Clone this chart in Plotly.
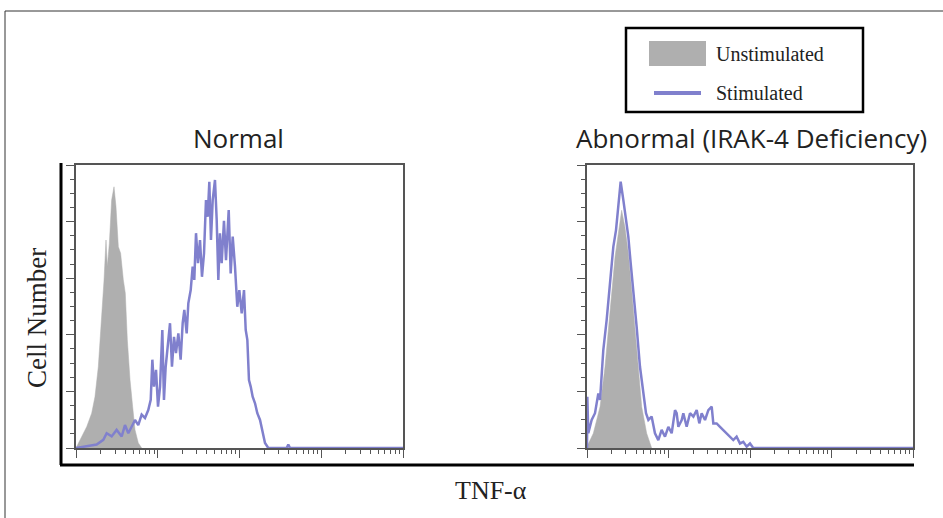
import plotly.graph_objects as go

# ---------------- data (x = log10 TNF-alpha fluorescence, y = % of max cell count) ----------------
normal_unstim_x = [0.0, 0.07, 0.131, 0.192, 0.232, 0.273, 0.314, 0.343, 0.367, 0.383, 0.408, 0.436,
                   0.465, 0.489, 0.518, 0.546, 0.579, 0.603, 0.628, 0.661, 0.693, 0.722, 0.762, 0.803]
normal_unstim_y = [0.0, 4.1, 7.5, 12.3, 18.1, 28.7, 45.2, 59.4, 73.5, 64.1, 72.3, 87.6,
                   92.3, 85.3, 71.1, 68.8, 59.4, 54.7, 38.2, 24.0, 14.6, 6.4, 1.8, 0.0]

normal_stim_x = [0.0, 0.131, 0.253, 0.334, 0.375, 0.436, 0.497, 0.559, 0.599, 0.64, 0.681, 0.722,
                 0.762, 0.803, 0.844, 0.884, 0.914, 0.934, 0.954, 0.979, 1.003, 1.028, 1.056, 1.076,
                 1.097, 1.121, 1.15, 1.174, 1.199, 1.223, 1.252, 1.28, 1.305, 1.325, 1.354, 1.374,
                 1.403, 1.427, 1.447, 1.468, 1.492, 1.517, 1.541, 1.566, 1.59, 1.611, 1.631, 1.651,
                 1.672, 1.7, 1.721, 1.741, 1.761, 1.782, 1.81, 1.835, 1.868, 1.892, 1.917, 1.945,
                 1.973, 1.998, 2.027, 2.055, 2.076, 2.096, 2.116, 2.137, 2.161, 2.19, 2.218, 2.251,
                 2.283, 2.312, 2.352, 2.577, 2.597, 2.618, 4.0]
normal_stim_y = [0.0, 0.6, 1.2, 2.9, 5.2, 4.1, 6.4, 4.1, 8.1, 5.2, 7.5, 9.9,
                 8.1, 11.8, 10.6, 13.4, 17.0, 31.2, 21.7, 27.6, 14.6, 21.7, 41.7, 17.0,
                 28.7, 35.8, 44.1, 28.7, 39.3, 33.5, 40.5, 31.2, 44.1, 48.8, 40.5, 51.1,
                 55.8, 64.1, 59.4, 75.9, 65.3, 73.5, 60.5, 68.8, 87.6, 81.7, 94.1, 73.5,
                 87.6, 94.7, 80.6, 59.4, 75.9, 65.3, 80.3, 66.4, 84.1, 61.7, 74.7, 64.1,
                 49.9, 55.8, 47.6, 55.8, 41.7, 38.2, 24.0, 21.7, 18.1, 15.8, 12.3, 9.9,
                 5.2, 1.8, 0.0, 0.0, 1.2, 0.0, 0.0]

irak4_unstim_x = [0.0, 0.078, 0.16, 0.221, 0.262, 0.303, 0.344, 0.385, 0.425, 0.466, 0.507,
                  0.548, 0.589, 0.63, 0.671, 0.732, 0.793]
irak4_unstim_y = [0.5, 5.2, 14.6, 28.7, 41.7, 55.8, 67.6, 75.9, 84.0, 78.0, 68.8,
                  55.8, 41.7, 26.4, 14.6, 5.2, 0.0]

irak4_stim_x = [0.0, 0.004, 0.016, 0.057, 0.098, 0.139, 0.16, 0.2, 0.241, 0.282, 0.323, 0.356,
                0.385, 0.413, 0.446, 0.479, 0.507, 0.536, 0.569, 0.609, 0.65, 0.691, 0.724, 0.753,
                0.793, 0.834, 0.875, 0.916, 0.957, 0.998, 1.039, 1.08, 1.1, 1.121, 1.162, 1.182,
                1.223, 1.264, 1.305, 1.346, 1.378, 1.407, 1.448, 1.489, 1.53, 1.55, 1.591, 1.632,
                1.673, 1.714, 1.755, 1.795, 1.836, 1.877, 1.918, 1.959, 2.0, 2.04, 2.082, 4.0]
irak4_stim_y = [0.0, 18.1, 5.2, 9.9, 12.3, 19.3, 17.0, 34.6, 45.2, 59.4, 71.1, 77.0,
                85.3, 94.1, 87.6, 80.6, 74.7, 65.3, 55.8, 42.9, 28.7, 19.3, 12.3, 9.9,
                11.1, 5.2, 2.8, 6.4, 4.0, 7.5, 5.2, 13.4, 12.3, 7.5, 9.9, 12.3,
                7.5, 12.3, 11.1, 13.4, 8.7, 12.3, 9.9, 13.4, 14.6, 8.7, 8.7, 7.5,
                6.4, 5.2, 4.0, 2.8, 4.0, 1.6, 2.2, 0.5, 1.6, 0.0, 0.0, 0.0]

panel_titles = ["Normal", "Abnormal (IRAK-4 Deficiency)"]
legend_labels = ["Unstimulated", "Stimulated"]
y_title = "Cell Number"
x_title = "TNF-α"

# ---------------- style ----------------
W, H = 943, 518
GRAY = "#afafaf"
BLUE = "rgb(128,128,205)"
AXC = "#555555"


def px(x):
    return x / W


def py(y):
    return 1 - y / H


def lin(v):
    return [10 ** t for t in v]


fig = go.Figure()

for xs, ys, xa, ya in [(normal_unstim_x, normal_unstim_y, "x", "y"),
                       (irak4_unstim_x, irak4_unstim_y, "x2", "y2")]:
    fig.add_trace(go.Scatter(x=lin(xs), y=ys, xaxis=xa, yaxis=ya, mode="lines",
                             fill="tozeroy", fillcolor=GRAY, line=dict(color=GRAY, width=0.5),
                             name=legend_labels[0], showlegend=False, hoverinfo="skip"))
for xs, ys, xa, ya in [(normal_stim_x, normal_stim_y, "x", "y"),
                       (irak4_stim_x, irak4_stim_y, "x2", "y2")]:
    fig.add_trace(go.Scatter(x=lin(xs), y=ys, xaxis=xa, yaxis=ya, mode="lines",
                             line=dict(color=BLUE, width=2.5), name=legend_labels[1],
                             showlegend=False, hoverinfo="skip"))

xcommon = dict(type="log", range=[0, 4], dtick=1, showline=True, linecolor=AXC, linewidth=1.5,
               mirror=True, ticks="outside", ticklen=8, tickwidth=1.3, tickcolor=AXC,
               showticklabels=False, showgrid=False, zeroline=False,
               minor=dict(ticks="outside", ticklen=4, tickwidth=1, tickcolor=AXC,
                          dtick="D1", showgrid=False))
ycommon = dict(range=[0, 100], dtick=20, showline=True, linecolor=AXC, linewidth=1.5,
               mirror=True, ticks="outside", ticklen=8, tickwidth=1.3, tickcolor=AXC,
               showticklabels=False, showgrid=False, zeroline=False,
               minor=dict(ticks="outside", ticklen=4, tickwidth=1, tickcolor=AXC,
                          dtick=5, showgrid=False))

ydom = [py(448), py(165)]
fig.update_layout(
    width=W, height=H, margin=dict(l=0, r=0, t=0, b=0),
    paper_bgcolor="white", plot_bgcolor="white", showlegend=False,
    xaxis=dict(domain=[px(76), px(403)], anchor="y", **xcommon),
    yaxis=dict(domain=ydom, anchor="x", **ycommon),
    xaxis2=dict(domain=[px(587), px(913)], anchor="y2", **xcommon),
    yaxis2=dict(domain=ydom, anchor="x2", **ycommon),
)

shapes = [
    # outer frame
    dict(type="rect", xref="paper", yref="paper", x0=px(5), y0=py(11), x1=1.02, y1=-0.02,
         line=dict(color="#333333", width=1)),
    # thick L axis lines
    dict(type="line", xref="paper", yref="paper", x0=px(61), x1=px(61), y0=py(163), y1=py(465),
         line=dict(color="black", width=3)),
    dict(type="line", xref="paper", yref="paper", x0=px(60), x1=px(914), y0=py(465), y1=py(465),
         line=dict(color="black", width=3)),
    # legend box
    dict(type="rect", xref="paper", yref="paper", x0=px(626), x1=px(863), y0=py(28), y1=py(112),
         line=dict(color="black", width=2.5), fillcolor="white"),
    dict(type="rect", xref="paper", yref="paper", x0=px(649), x1=px(706), y0=py(41), y1=py(66),
         line=dict(width=0), fillcolor=GRAY),
    dict(type="line", xref="paper", yref="paper", x0=px(654), x1=px(701), y0=py(93), y1=py(93),
         line=dict(color=BLUE, width=4)),
]
fig.update_layout(shapes=shapes)

SANS = "Open Sans, Noto Sans, sans-serif"
SERIF = "Liberation Serif, Times New Roman, serif"
ann = [
    dict(text=panel_titles[0], x=px(238), y=py(138), font=dict(family=SANS, size=26, color="#222")),
    dict(text=panel_titles[1], x=px(751), y=py(138), font=dict(family=SANS, size=26, color="#222")),
    dict(text=y_title, x=px(37), y=py(318), textangle=-90,
         font=dict(family=SERIF, size=27, color="#222")),
    dict(text=x_title, x=px(491), y=py(490), font=dict(family=SERIF, size=26, color="#222")),
    dict(text=legend_labels[0], x=px(714), y=py(54), xanchor="left",
         font=dict(family=SERIF, size=20, color="#222")),
    dict(text=legend_labels[1], x=px(714), y=py(93), xanchor="left",
         font=dict(family=SERIF, size=20, color="#222")),
]
for a in ann:
    a.setdefault("xanchor", "center")
    fig.add_annotation(xref="paper", yref="paper", yanchor="middle", showarrow=False, **a)

fig.write_html("out.html", config={"displayModeBar": False},
               post_script="document.body.style.margin='0';document.body.style.overflow='hidden';")
